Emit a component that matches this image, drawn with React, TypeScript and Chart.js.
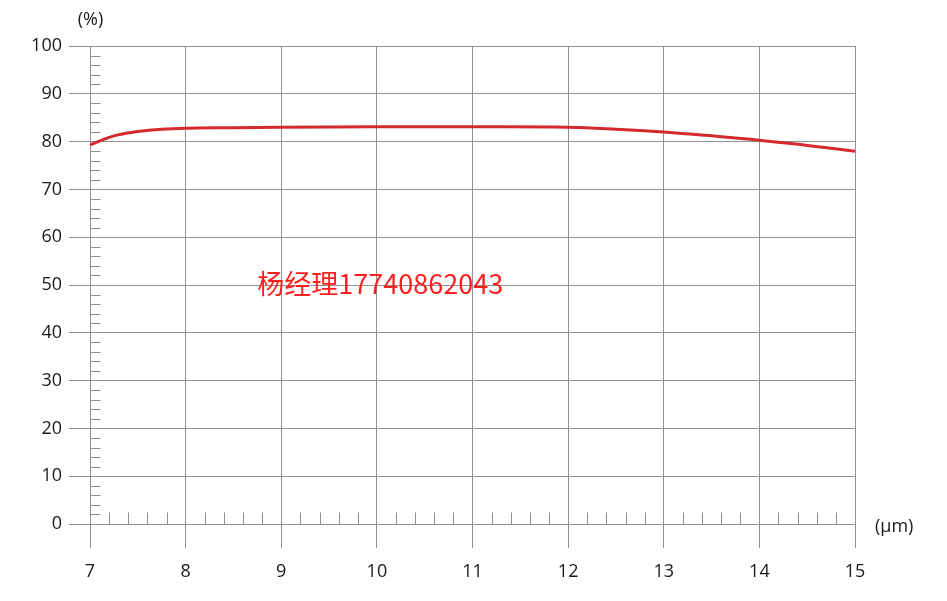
import React, { useEffect, useRef } from "react";
import { Chart, registerables } from "chart.js";

Chart.register(...registerables);

const wavelengths = [7, 7.25, 7.5, 7.75, 8, 8.5, 9, 10, 11, 12, 12.5, 13, 13.5, 14, 14.5, 15];
const transmittance = [79.3, 81.2, 82.1, 82.6, 82.8, 82.9, 83.0, 83.1, 83.1, 83.0, 82.6, 82.0, 81.2, 80.3, 79.2, 78.0];
const xTicks = [7, 8, 9, 10, 11, 12, 13, 14, 15];
const yTicks = [0, 10, 20, 30, 40, 50, 60, 70, 80, 90, 100];
const xMinorTicks = [7.2, 7.4, 7.6, 7.8, 8.2, 8.4, 8.6, 8.8, 9.2, 9.4, 9.6, 9.8, 10.2, 10.4, 10.6, 10.8, 11.2, 11.4, 11.6, 11.8, 12.2, 12.4, 12.6, 12.8, 13.2, 13.4, 13.6, 13.8, 14.2, 14.4, 14.6, 14.8];
const yMinorTicks = [2, 4, 6, 8, 12, 14, 16, 18, 22, 24, 26, 28, 32, 34, 36, 38, 42, 44, 46, 48, 52, 54, 56, 58, 62, 64, 66, 68, 72, 74, 76, 78, 82, 84, 86, 88, 92, 94, 96, 98];
const yUnit = "(%)";
const xUnit = "(μm)";
const watermark = "杨经理17740862043";

const FONT = "'Open Sans', 'Noto Sans', sans-serif";
const GRID = "#909090";

const minorTicksPlugin = {
  id: "minorTicks",
  afterDatasetsDraw(chart: any) {
    const { ctx, scales } = chart;
    const xs = scales.x;
    const ys = scales.y;
    ctx.save();
    ctx.strokeStyle = GRID;
    ctx.lineWidth = 1;
    const x0 = Math.round(xs.getPixelForValue(7)) + 0.5;
    for (const v of yMinorTicks) {
      const y = Math.round(ys.getPixelForValue(v)) + 0.5;
      ctx.beginPath();
      ctx.moveTo(x0, y);
      ctx.lineTo(x0 + 10, y);
      ctx.stroke();
    }
    const y0 = Math.round(ys.getPixelForValue(0)) + 0.5;
    for (const v of xMinorTicks) {
      const x = Math.round(xs.getPixelForValue(v)) + 0.5;
      ctx.beginPath();
      ctx.moveTo(x, y0);
      ctx.lineTo(x, y0 - 12);
      ctx.stroke();
    }
    // unit labels
    ctx.fillStyle = "#1a1a1a";
    ctx.font = `18px ${FONT}`;
    ctx.textAlign = "center";
    ctx.textBaseline = "middle";
    ctx.fillText(yUnit, x0, 20);
    ctx.textAlign = "left";
    ctx.fillText(xUnit, xs.right + 20, y0 + 2);
    // watermark
    ctx.fillStyle = "#ff1f1f";
    ctx.font = `27px 'Noto Sans CJK SC', sans-serif`;
    ctx.textAlign = "left";
    ctx.fillText(watermark, xs.getPixelForValue(8.75), ys.getPixelForValue(50.3));
    ctx.restore();
  },
};

export default function App() {
  const ref = useRef<HTMLCanvasElement>(null);
  useEffect(() => {
    const chart = new Chart(ref.current!, {
      type: "line",
      data: {
        datasets: [
          {
            data: wavelengths.map((w, i) => ({ x: w, y: transmittance[i] })),
            borderColor: "#d42a2e",
            borderWidth: 3,
            pointRadius: 0,
            tension: 0.4,
          },
        ],
      },
      options: {
        animation: false,
        responsive: false,
        maintainAspectRatio: false,
        layout: { padding: { top: 46, right: 92, left: 0, bottom: 0 } },
        plugins: { legend: { display: false }, tooltip: { enabled: false } },
        scales: {
          x: {
            type: "linear",
            min: 7,
            max: 15,
            afterBuildTicks: (s: any) => {
              s.ticks = xTicks.map((v) => ({ value: v }));
            },
            afterFit: (s: any) => {
              s.height = 77;
            },
            grid: { color: GRID, lineWidth: 1, tickLength: 24, drawTicks: true },
            border: { color: GRID, width: 1 },
            ticks: { color: "#1a1a1a", font: { size: 18, family: FONT }, padding: 13, maxRotation: 0 },
          },
          y: {
            type: "linear",
            min: 0,
            max: 100,
            afterBuildTicks: (s: any) => {
              s.ticks = yTicks.map((v) => ({ value: v }));
            },
            afterFit: (s: any) => {
              s.width = 90;
            },
            grid: { color: GRID, lineWidth: 1, tickLength: 21, drawTicks: true },
            border: { color: GRID, width: 1 },
            ticks: { color: "#1a1a1a", font: { size: 18, family: FONT }, padding: 7 },
          },
        },
      },
      plugins: [minorTicksPlugin],
    } as any);
    return () => chart.destroy();
  }, []);
  return (
    <div style={{ position: "fixed", left: 0, top: 0, width: 947, height: 601, background: "#fff" }}>
      <canvas ref={ref} width={947} height={601} style={{ width: 947, height: 601 }} />
    </div>
  );
}
